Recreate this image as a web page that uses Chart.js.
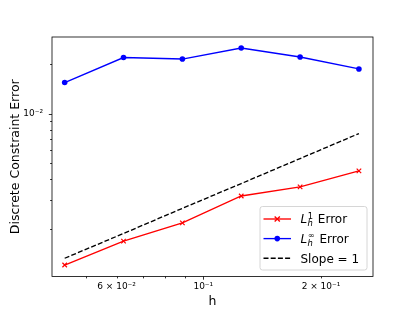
<!DOCTYPE html>
<html>
<head>
<meta charset="utf-8">
<script src="https://cdn.jsdelivr.net/npm/chart.js@4"></script>
<style>
  html, body { margin: 0; padding: 0; background: #fff; }
  #wrap { width: 415px; height: 311px; }
</style>
</head>
<body>
<div id="wrap"><canvas id="chart" width="415" height="311"></canvas></div>
<script>
// mesh sizes and errors
const hValues = [0.0442, 0.0625, 0.0884, 0.125, 0.1768, 0.25];
const l1Error = [0.00122, 0.00170, 0.00219, 0.00318, 0.00361, 0.00451];
const linfError = [0.01537, 0.02175, 0.0213, 0.02484, 0.02192, 0.01857];
const slopeRef = [0.00134, 0.00189, 0.00268, 0.00378, 0.00535, 0.00757];

const xMajorTicks = [0.1];
const xMinorTicks = [0.05, 0.06, 0.07, 0.08, 0.09, 0.2];
const xTickLabels = { 0.06: '6 × 10⁻²', 0.1: '10⁻¹', 0.2: '2 × 10⁻¹' };
const yMajorTicks = [0.01];
const yMinorTicks = [0.002, 0.003, 0.004, 0.005, 0.006, 0.007, 0.008, 0.009, 0.02];
const yTickLabels = { 0.01: '10⁻²' };

const FONT = 'DejaVu Sans';

function points(ys) {
    return hValues.map((h, i) => ({ x: h, y: ys[i] }));
}

// spines + outward tick marks, matplotlib style
const frameAndTicks = {
    id: 'frameAndTicks',
    afterDatasetsDraw(chart) {
        const { ctx, chartArea: ca, scales } = chart;
        ctx.save();
        ctx.strokeStyle = '#000';
        ctx.lineWidth = 0.8;
        const tick = (vals, len, isX) => {
            vals.forEach((v) => {
                ctx.beginPath();
                if (isX) {
                    const px = Math.round(scales.x.getPixelForValue(v)) + 0.5;
                    ctx.moveTo(px, ca.bottom);
                    ctx.lineTo(px, ca.bottom + len);
                } else {
                    const py = Math.round(scales.y.getPixelForValue(v)) + 0.5;
                    ctx.moveTo(ca.left, py);
                    ctx.lineTo(ca.left - len, py);
                }
                ctx.stroke();
            });
        };
        tick(xMajorTicks, 3.2, true);
        tick(xMinorTicks, 1.9, true);
        tick(yMajorTicks, 3.2, false);
        tick(yMinorTicks, 1.9, false);
        ctx.strokeRect(ca.left, ca.top, ca.right - ca.left, ca.bottom - ca.top);
        ctx.restore();
    }
};

// legend with L_h^1 / L_h^inf math labels
const mathLegend = {
    id: 'mathLegend',
    afterDraw(chart) {
        const { ctx, chartArea: ca } = chart;
        const w = 107, hgt = 63.5;
        const x0 = ca.right - 6 - w, y0 = ca.bottom - 6.5 - hgt;
        ctx.save();
        ctx.fillStyle = 'rgba(255,255,255,0.8)';
        ctx.strokeStyle = '#cccccc';
        ctx.lineWidth = 0.8;
        ctx.beginPath();
        ctx.roundRect(x0, y0, w, hgt, 2.5);
        ctx.fill();
        ctx.stroke();

        const rows = [
            { color: 'red', marker: 'x', sup: '1' },
            { color: 'blue', marker: 'o', sup: '∞' },
            { color: 'black', dash: true, text: 'Slope = 1' }
        ];
        rows.forEach((r, i) => {
            const cy = y0 + 12.5 + i * 19.6;
            const lx0 = x0 + 3.5, lx1 = x0 + 31;
            ctx.strokeStyle = r.color;
            ctx.fillStyle = r.color;
            ctx.lineWidth = 1.35;
            ctx.setLineDash(r.dash ? [5, 2.2] : []);
            ctx.beginPath();
            ctx.moveTo(lx0, cy);
            ctx.lineTo(lx1, cy);
            ctx.stroke();
            ctx.setLineDash([]);
            const mx = (lx0 + lx1) / 2;
            if (r.marker === 'x') {
                ctx.beginPath();
                ctx.moveTo(mx - 2.6, cy - 2.6); ctx.lineTo(mx + 2.6, cy + 2.6);
                ctx.moveTo(mx - 2.6, cy + 2.6); ctx.lineTo(mx + 2.6, cy - 2.6);
                ctx.stroke();
            } else if (r.marker === 'o') {
                ctx.beginPath();
                ctx.arc(mx, cy, 2.8, 0, Math.PI * 2);
                ctx.fill();
            }
            ctx.fillStyle = '#000';
            ctx.textBaseline = 'alphabetic';
            ctx.textAlign = 'left';
            let tx = x0 + 40.5;
            const base = cy + 4.3;
            if (r.text) {
                ctx.font = '12px "' + FONT + '"';
                ctx.fillText(r.text, tx, base);
            } else {
                ctx.font = 'italic 12px "' + FONT + '"';
                ctx.fillText('L', tx, base);
                tx += ctx.measureText('L').width + 0.3;
                ctx.font = 'italic 8.4px "' + FONT + '"';
                ctx.fillText('h', tx, base + 2.6);
                ctx.font = '8.4px "' + FONT + '"';
                ctx.fillText(r.sup, tx + 0.3, base - 4.6);
                const wSub = Math.max(ctx.measureText(r.sup).width, 5);
                tx += wSub + 1.2;
                ctx.font = '12px "' + FONT + '"';
                ctx.fillText(' Error', tx, base);
            }
        });
        ctx.restore();
    }
};

new Chart(document.getElementById('chart').getContext('2d'), {
    type: 'scatter',
    data: {
        datasets: [
            {
                label: 'L1 Error',
                data: points(l1Error),
                showLine: true,
                borderColor: 'red',
                backgroundColor: 'red',
                borderWidth: 1.35,
                pointStyle: 'crossRot',
                pointRadius: 3.2,
                pointBorderWidth: 1.2,
                order: 3
            },
            {
                label: 'Linf Error',
                data: points(linfError),
                showLine: true,
                borderColor: 'blue',
                backgroundColor: 'blue',
                borderWidth: 1.35,
                pointStyle: 'circle',
                pointRadius: 2.8,
                pointBorderWidth: 0,
                order: 2
            },
            {
                label: 'Slope = 1',
                data: points(slopeRef),
                showLine: true,
                borderColor: 'black',
                borderWidth: 1.35,
                borderDash: [5, 2.2],
                pointRadius: 0,
                order: 1
            }
        ]
    },
    options: {
        responsive: false,
        animation: false,
        layout: { padding: { left: 0, top: 37, right: 42, bottom: 0 } },
        scales: {
            x: {
                type: 'logarithmic',
                min: 0.04102,
                max: 0.2716,
                grid: { display: false, drawTicks: false },
                border: { display: false },
                afterBuildTicks: (scale) => {
                    scale.ticks = xMajorTicks.concat(xMinorTicks).sort((a, b) => a - b).map((v) => ({ value: v }));
                },
                afterFit: (scale) => { scale.height = 34.5; },
                ticks: {
                    autoSkip: false,
                    maxRotation: 0,
                    padding: 5,
                    color: '#000',
                    font: { family: FONT, size: 9 },
                    callback: (v) => xTickLabels[v] || ''
                },
                title: { display: false }
            },
            y: {
                type: 'logarithmic',
                min: 0.00104,
                max: 0.02893,
                grid: { display: false, drawTicks: false },
                border: { display: false },
                afterBuildTicks: (scale) => {
                    scale.ticks = yMajorTicks.concat(yMinorTicks).sort((a, b) => a - b).map((v) => ({ value: v }));
                },
                afterFit: (scale) => { scale.width = 52; },
                ticks: {
                    autoSkip: false,
                    padding: 9,
                    color: '#000',
                    font: { family: FONT, size: 9 },
                    callback: (v) => yTickLabels[v] || ''
                },
                title: { display: false }
            }
        },
        plugins: {
            legend: { display: false },
            tooltip: { enabled: false }
        }
    },
    plugins: [frameAndTicks, mathLegend, {
        id: 'axisTitles',
        afterDraw(chart) {
            const { ctx, chartArea: ca } = chart;
            ctx.save();
            ctx.fillStyle = '#000';
            ctx.font = '12.5px "' + FONT + '"';
            ctx.textAlign = 'center';
            ctx.textBaseline = 'alphabetic';
            ctx.fillText('h', (ca.left + ca.right) / 2, 305);
            ctx.translate(19, (ca.top + ca.bottom) / 2);
            ctx.rotate(-Math.PI / 2);
            ctx.fillText('Discrete Constraint Error', 0, 0);
            ctx.restore();
        }
    }]
});
</script>
</body>
</html>
